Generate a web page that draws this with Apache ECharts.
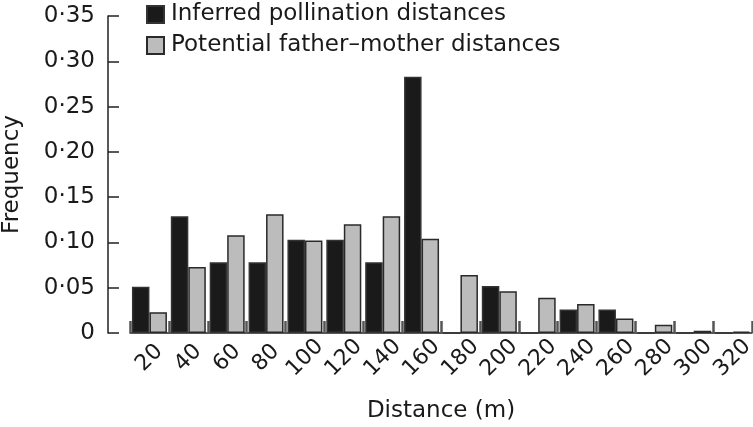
<!DOCTYPE html>
<html>
<head>
<meta charset="utf-8">
<script src="https://cdn.jsdelivr.net/npm/echarts@6/dist/echarts.min.js"></script>
<style>
  html, body { margin: 0; padding: 0; background: #fff; }
  #chart { width: 753px; height: 427px; }
</style>
</head>
<body>
<div id="chart"></div>
<script>
var distances = ['20', '40', '60', '80', '100', '120', '140', '160', '180', '200', '220', '240', '260', '280', '300', '320'];
var inferred = [0.051, 0.129, 0.078, 0.078, 0.103, 0.103, 0.078, 0.283, 0, 0.052, 0, 0.026, 0.026, 0, 0, 0];
var potential = [0.023, 0.073, 0.108, 0.131, 0.102, 0.120, 0.129, 0.104, 0.064, 0.046, 0.039, 0.032, 0.016, 0.009, 0.0025, 0.0015];
var yTicks = [0, 0.05, 0.10, 0.15, 0.20, 0.25, 0.30, 0.35];

var font = 'DejaVu Sans';
var chart = echarts.init(document.getElementById('chart'));
chart.setOption({
  animation: false,
  textStyle: { fontFamily: font, color: '#1a1a1a' },
  grid: { left: 130, right: 1, top: 16, bottom: 94, outerBoundsMode: 'none', containLabel: false },
  legend: {
    orient: 'vertical',
    left: 146,
    top: 3,
    padding: 0,
    itemWidth: 17,
    itemHeight: 17,
    itemGap: 8,
    icon: 'rect',
    textStyle: { fontFamily: font, fontSize: 23, lineHeight: 23, color: '#1a1a1a', padding: [0, 0, 0, 2] },
    data: ['Inferred pollination distances', 'Potential father\u2013mother distances']
  },
  xAxis: {
    type: 'category',
    data: distances,
    name: 'Distance (m)',
    nameLocation: 'middle',
    nameGap: 67,
    nameMoveOverlap: false,
    nameTextStyle: { fontFamily: font, fontSize: 23, color: '#1a1a1a' },
    axisLine: { lineStyle: { color: '#222', width: 1.5 } },
    axisTick: { show: true, inside: true, length: 12, lineStyle: { color: '#555', width: 2.5 } },
    axisLabel: {
      interval: 0,
      hideOverlap: false,
      rotate: 45,
      align: 'center',
      verticalAlign: 'middle',
      margin: 25,
      fontFamily: font,
      fontSize: 22,
      color: '#1a1a1a'
    }
  },
  yAxis: {
    type: 'value',
    min: 0,
    max: 0.35,
    interval: 0.05,
    offset: 22,
    name: 'Frequency',
    nameLocation: 'middle',
    nameGap: 84,
    nameMoveOverlap: false,
    nameTextStyle: { fontFamily: font, fontSize: 23, color: '#1a1a1a' },
    axisLine: { show: true, lineStyle: { color: '#222', width: 1.5 } },
    axisTick: { show: true, inside: true, length: 11, lineStyle: { color: '#222', width: 1.5 } },
    splitLine: { show: false },
    axisLabel: {
      margin: 13,
      fontFamily: font,
      fontSize: 23,
      color: '#1a1a1a',
      customValues: yTicks,
      formatter: function (v) {
        if (v === 0) return '0';
        return v.toFixed(2).replace('.', '\u00b7');
      }
    }
  },
  series: [
    {
      name: 'Inferred pollination distances',
      type: 'bar',
      data: inferred,
      barGap: '0%',
      barCategoryGap: '10%',
      itemStyle: { color: '#1a1a1a', borderColor: '#333', borderWidth: 1.5 }
    },
    {
      name: 'Potential father\u2013mother distances',
      type: 'bar',
      data: potential,
      barGap: '0%',
      barCategoryGap: '10%',
      itemStyle: { color: '#bcbcbc', borderColor: '#2a2a2a', borderWidth: 1.5 }
    }
  ]
});
</script>
</body>
</html>
